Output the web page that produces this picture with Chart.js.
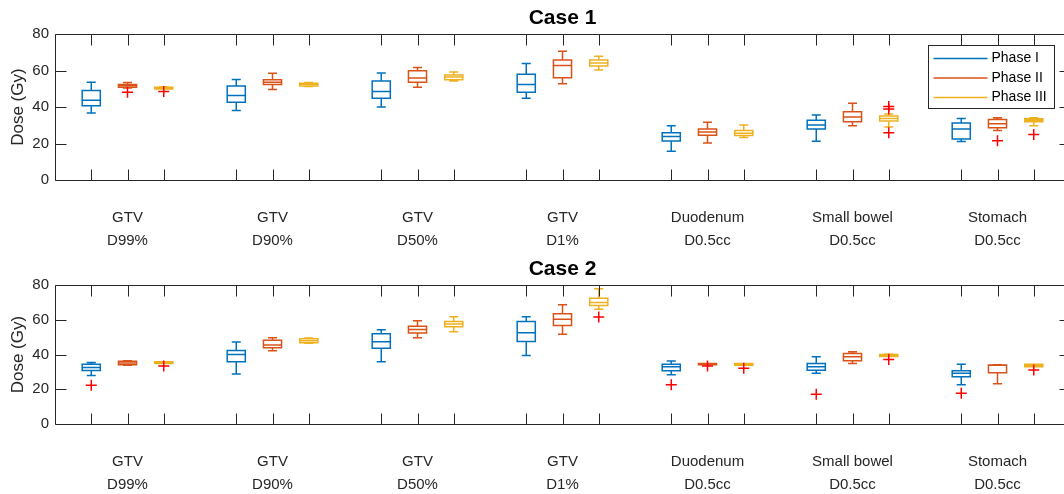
<!DOCTYPE html>
<html>
<head>
<meta charset="utf-8">
<script src="https://cdn.jsdelivr.net/npm/chart.js@4"></script>
<style>
  html, body { margin: 0; padding: 0; background: #fff; overflow: hidden; }
  #wrap { position: relative; width: 1080px; height: 494px; }
  canvas { position: absolute; left: 0; }
  #case1 { top: 0; }
  #case2 { top: 250px; }
</style>
</head>
<body>
<div id="wrap">
  <canvas id="case1" width="1080" height="250"></canvas>
  <canvas id="case2" width="1080" height="244"></canvas>
</div>
<script>
const categories = [
  ["GTV", "D99%"], ["GTV", "D90%"], ["GTV", "D50%"], ["GTV", "D1%"],
  ["Duodenum", "D0.5cc"], ["Small bowel", "D0.5cc"], ["Stomach", "D0.5cc"]
];
const phaseNames = ["Phase I", "Phase II", "Phase III"];
const phaseColors = ["#0072BD", "#D95319", "#EDB120"];
const yTicks = [0, 20, 40, 60, 80];

// each entry: [lower whisker, Q1, median, Q3, upper whisker]
const case1PhaseI = [
  [36.7, 40.8, 43.8, 49.1, 53.7], [38.2, 42.7, 46.4, 51.6, 55.2], [40.1, 44.8, 48.5, 54.3, 58.7],
  [44.8, 48.1, 52.4, 58.0, 63.9], [15.8, 21.4, 23.9, 25.9, 29.8], [21.3, 28.0, 30.2, 32.8, 35.6],
  [21.1, 22.5, 28.0, 31.3, 33.7]
];
const case1PhaseII = [
  [50.5, 50.9, 51.8, 52.4, 53.5], [49.6, 52.4, 53.7, 55.0, 58.6], [50.9, 53.7, 55.9, 60.0, 61.7],
  [52.8, 56.1, 62.8, 65.8, 70.7], [20.3, 24.6, 26.3, 28.0, 31.7], [29.8, 31.9, 34.5, 37.5, 42.1],
  [27.2, 28.7, 30.9, 33.2, 34.1]
];
const case1PhaseIII = [
  [50.0, 50.0, 50.5, 50.9, 51.1], [51.3, 51.6, 52.5, 53.1, 53.5], [54.3, 55.0, 56.5, 57.6, 59.3],
  [60.4, 62.5, 64.2, 65.8, 67.9], [23.3, 24.4, 25.7, 27.2, 30.2], [29.1, 32.4, 33.7, 35.1, 36.2],
  [29.7, 31.9, 32.8, 33.6, 34.1]
];
const case1OutliersI = [[], [], [], [], [], [], []];
const case1OutliersII = [[48.1], [], [], [], [], [], [21.6]];
const case1OutliersIII = [[48.6], [], [], [], [], [40.3, 39.0, 25.9], [25.0]];

const case2PhaseI = [
  [28.0, 30.9, 32.6, 34.5, 35.5], [28.8, 35.9, 40.1, 42.4, 47.2], [35.9, 43.7, 47.4, 52.0, 54.3],
  [39.5, 47.6, 52.6, 59.1, 61.8], [28.4, 30.7, 33.0, 34.4, 36.3], [29.2, 31.0, 33.0, 34.9, 38.7],
  [22.6, 27.2, 29.2, 30.7, 34.5]
];
const case2PhaseII = [
  [33.8, 34.1, 35.2, 36.1, 36.5], [42.2, 43.9, 45.5, 48.2, 49.7], [49.7, 52.4, 54.5, 56.4, 59.5],
  [51.8, 56.8, 60.4, 63.5, 68.7], [34.2, 34.2, 34.5, 34.9, 34.9], [34.9, 36.4, 38.8, 40.7, 41.6],
  [23.2, 29.5, 33.9, 34.0, 34.1]
];
const case2PhaseIII = [
  [34.9, 34.9, 35.4, 35.9, 35.9], [46.5, 46.8, 48.0, 49.1, 49.6], [53.1, 56.0, 57.6, 59.1, 61.8],
  [66.2, 68.3, 70.0, 72.5, 77.9], [33.8, 33.8, 34.4, 34.9, 34.9], [38.9, 38.9, 39.5, 40.1, 40.3],
  [33.0, 33.0, 33.8, 34.5, 34.5]
];
const case2OutliersI = [[22.4], [], [], [], [22.6], [17.2], [17.7]];
const case2OutliersII = [[], [], [], [], [33.4], [], []];
const case2OutliersIII = [[33.4], [], [], [61.6], [32.1], [37.2], [31.1]];

const axisColor = "#262626";
const fontFamily = "'Liberation Sans', Arial, sans-serif";

// box position on the x axis: groups of three with a gap
function boxPos(cat, phase) {
  return cat * 4 + phase + 1;
}

const boxPlugin = {
  id: "boxes",
  beforeDatasetsDraw(chart, args, opts) {
    const { ctx, chartArea: a, scales: { x, y } } = chart;
    ctx.save();
    ctx.beginPath();
    ctx.rect(a.left, a.top, a.right - a.left, a.bottom - a.top);
    ctx.clip();
    ctx.lineWidth = 1.5;
    opts.stats.forEach((phase, p) => {
      ctx.strokeStyle = phaseColors[p];
      phase.forEach((s, c) => {
        const pos = boxPos(c, p);
        const xc = x.getPixelForValue(pos);
        const xl = x.getPixelForValue(pos - 0.25);
        const xr = x.getPixelForValue(pos + 0.25);
        const cl = x.getPixelForValue(pos - 0.125);
        const cr = x.getPixelForValue(pos + 0.125);
        const [lo, q1, md, q3, hi] = s.map(v => y.getPixelForValue(v));
        ctx.beginPath();
        ctx.moveTo(xc, hi); ctx.lineTo(xc, q3);
        ctx.moveTo(xc, q1); ctx.lineTo(xc, lo);
        ctx.moveTo(cl, hi); ctx.lineTo(cr, hi);
        ctx.moveTo(cl, lo); ctx.lineTo(cr, lo);
        ctx.rect(xl, q3, xr - xl, q1 - q3);
        ctx.moveTo(xl, md); ctx.lineTo(xr, md);
        ctx.stroke();
      });
    });
    ctx.restore();
  },
  afterDraw(chart, args, opts) {
    const { ctx, chartArea: a, scales: { x, y } } = chart;
    const tick = 11;
    ctx.save();
    ctx.strokeStyle = axisColor;
    ctx.lineWidth = 1;
    const L = Math.round(a.left) + 0.5, R = Math.round(a.right) + 0.5;
    const T = Math.round(a.top) + 0.5, B = Math.round(a.bottom) + 0.5;
    ctx.beginPath();
    ctx.rect(L, T, R - L, B - T);
    for (let c = 0; c < categories.length; c++) {
      for (let p = 0; p < 3; p++) {
        const px = Math.round(x.getPixelForValue(boxPos(c, p))) + 0.5;
        ctx.moveTo(px, B); ctx.lineTo(px, B - tick);
        ctx.moveTo(px, T); ctx.lineTo(px, T + tick);
      }
    }
    yTicks.forEach(v => {
      const py = Math.round(y.getPixelForValue(v)) + 0.5;
      ctx.moveTo(L, py); ctx.lineTo(L + tick, py);
      ctx.moveTo(R, py); ctx.lineTo(R - tick, py);
    });
    ctx.stroke();

    if (opts.legend) {
      const lw = 126, lh = 63;
      const lx = Math.round(a.right) - 141.5, ly = Math.round(a.top) + 11.5;
      ctx.fillStyle = "#fff";
      ctx.fillRect(lx, ly, lw, lh);
      ctx.strokeStyle = axisColor;
      ctx.strokeRect(lx, ly, lw, lh);
      ctx.font = "14px " + fontFamily;
      ctx.textBaseline = "middle";
      ctx.textAlign = "left";
      phaseNames.forEach((name, i) => {
        const ry = ly + 13 + i * 19.5;
        ctx.strokeStyle = phaseColors[i];
        ctx.lineWidth = 1.5;
        ctx.beginPath();
        ctx.moveTo(lx + 5, ry); ctx.lineTo(lx + 59, ry);
        ctx.stroke();
        ctx.fillStyle = "#000";
        ctx.fillText(name, lx + 63, ry);
      });
    }
    ctx.restore();
  }
};

function outlierData(outliers, phase) {
  const pts = [];
  outliers.forEach((list, c) => list.forEach(v => pts.push({ x: boxPos(c, phase), y: v })));
  return pts;
}

function makeCase(id, title, stats, outliers, showLegend, topPad) {
  new Chart(document.getElementById(id), {
    type: "scatter",
    data: {
      datasets: outliers.map((o, p) => ({
        label: phaseNames[p] + " outliers",
        data: outlierData(o, p),
        pointStyle: "cross",
        radius: 5.5,
        borderColor: "#FF0000",
        borderWidth: 1.5,
        backgroundColor: "#FF0000"
      }))
    },
    options: {
      responsive: false,
      animation: false,
      events: [],
      layout: { padding: { left: 0, right: 10, top: 0, bottom: 0 } },
      plugins: {
        legend: { display: false },
        tooltip: { enabled: false },
        title: {
          display: true,
          text: title,
          fullSize: false,
          color: "#000",
          font: { family: fontFamily, size: 21, weight: "bold", lineHeight: 1.2 },
          padding: { top: topPad, bottom: 3 }
        },
        boxes: { stats: stats, legend: showLegend }
      },
      scales: {
        x: {
          type: "linear",
          min: 0,
          max: 28,
          grid: { display: false, drawTicks: false },
          border: { display: false },
          afterBuildTicks: scale => {
            scale.ticks = categories.map((c, i) => ({ value: boxPos(i, 1) }));
          },
          afterFit: scale => { scale.height = 70; },
          ticks: {
            autoSkip: false,
            maxRotation: 0,
            padding: 27,
            color: axisColor,
            font: { family: fontFamily, size: 15, lineHeight: 1.5 },
            callback: (v, i) => categories[i]
          }
        },
        y: {
          min: 0,
          max: 80,
          grid: { display: false, drawTicks: false },
          border: { display: false },
          afterFit: scale => { scale.width = 55; },
          ticks: {
            stepSize: 20,
            padding: 6,
            color: axisColor,
            font: { family: fontFamily, size: 15 }
          },
          title: {
            display: true,
            text: "Dose (Gy)",
            color: axisColor,
            font: { family: fontFamily, size: 17 },
            padding: { top: 8, bottom: 0 }
          }
        }
      }
    },
    plugins: [boxPlugin]
  });
}

makeCase("case1", "Case 1",
  [case1PhaseI, case1PhaseII, case1PhaseIII],
  [case1OutliersI, case1OutliersII, case1OutliersIII], true, 6);
makeCase("case2", "Case 2",
  [case2PhaseI, case2PhaseII, case2PhaseIII],
  [case2OutliersI, case2OutliersII, case2OutliersIII], false, 7);
</script>
</body>
</html>
